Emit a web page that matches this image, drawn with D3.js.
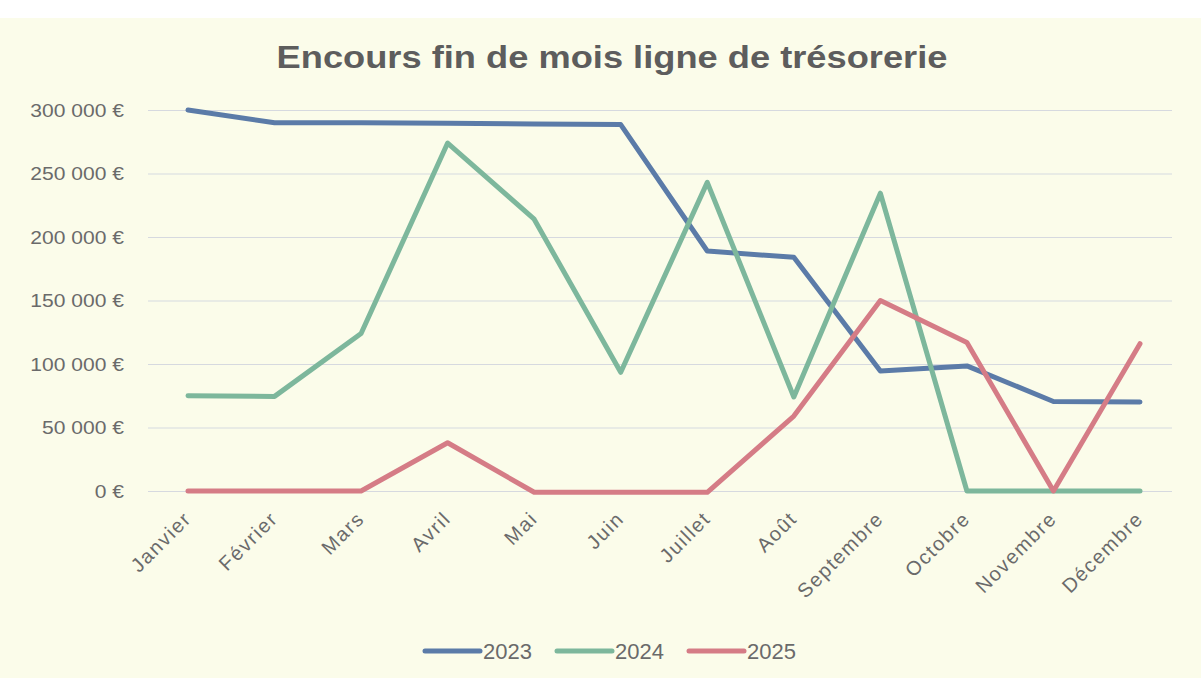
<!DOCTYPE html>
<html>
<head>
<meta charset="utf-8">
<script src="https://cdn.jsdelivr.net/npm/d3@7/dist/d3.min.js"></script>
<style>
  html, body { margin: 0; padding: 0; background: #ffffff; }
  svg { display: block; }
  text { font-family: "Liberation Sans", Arial, sans-serif; }
</style>
</head>
<body>
<div id="chart"></div>
<script>
// data
const months = ["Janvier", "Février", "Mars", "Avril", "Mai", "Juin", "Juillet", "Août", "Septembre", "Octobre", "Novembre", "Décembre"];
const years = ["2023", "2024", "2025"];
const values2023 = [300000, 290000, 290000, 289500, 289000, 288500, 189000, 184000, 94500, 98500, 70500, 70000];
const values2024 = [75000, 74500, 124000, 274000, 214000, 93500, 243000, 74000, 234500, 0, 0, 0];
const values2025 = [0, 0, 0, 38000, -1000, -1000, -1000, 59000, 150000, 117000, 0, 116000];
const yTicks = [0, 50000, 100000, 150000, 200000, 250000, 300000];
const colors = ["#5b7ba8", "#7db79c", "#d57c86"];

const series = [values2023, values2024, values2025];

const W = 1201, H = 678;
const sx = 1.17; // the picture's text runs a bit wide

const svg = d3.select("#chart").append("svg")
    .attr("width", W)
    .attr("height", H);

// cream card behind the chart
svg.append("rect")
    .attr("x", 0).attr("y", 18)
    .attr("width", W).attr("height", H - 18)
    .attr("fill", "#fbfcea");

const x = d3.scalePoint()
    .domain(months)
    .range([188, 1140]);

const y = d3.scaleLinear()
    .domain([0, 300000])
    .range([491, 110]);

const fr = d3.formatLocale({ decimal: ",", thousands: " ", grouping: [3], currency: ["", " €"] });
const euro = fr.format("$,.0f");

// title
svg.append("text")
    .attr("transform", `translate(612, 68) scale(${sx},1)`)
    .attr("text-anchor", "middle")
    .style("font-size", "31px")
    .style("font-weight", "bold")
    .style("fill", "#5d5d5d")
    .text("Encours fin de mois ligne de trésorerie");

// y axis + grid
const gridLeft = 148, gridRight = 1172;
const yAxis = svg.append("g")
    .attr("transform", `translate(${gridLeft},0)`)
    .call(d3.axisLeft(y).tickValues(yTicks).tickFormat(euro)
        .tickSize(-(gridRight - gridLeft)).tickPadding(0));
yAxis.select(".domain").remove();
yAxis.selectAll(".tick line")
    .attr("stroke", "#d6d9df")
    .attr("stroke-width", 1.2);
yAxis.selectAll(".tick text")
    .attr("x", -24 / sx)
    .attr("dy", "0.36em")
    .attr("transform", `scale(${sx},1)`)
    .style("font-size", "18px")
    .style("fill", "#6a6a6a");

// x axis labels
const xAxis = svg.append("g")
    .attr("transform", "translate(0,520)")
    .call(d3.axisBottom(x).tickSize(0).tickPadding(0));
xAxis.select(".domain").remove();
xAxis.selectAll(".tick text")
    .attr("x", 0).attr("y", 0).attr("dy", 0)
    .attr("text-anchor", "end")
    .attr("transform", "translate(4,0) rotate(-45)")
    .style("font-size", "20px")
    .style("letter-spacing", "1.6px")
    .style("fill", "#6a6a6a");

// lines
const line = d3.line()
    .x((d, i) => x(months[i]))
    .y(d => y(d));

svg.selectAll(".serie")
    .data(series)
    .join("path")
    .attr("class", "serie")
    .attr("d", line)
    .attr("fill", "none")
    .attr("stroke", (d, i) => colors[i])
    .attr("stroke-width", 5)
    .attr("stroke-linejoin", "round")
    .attr("stroke-linecap", "round");

// legend
const legendX = [425, 557, 689];
const legend = svg.selectAll(".legend")
    .data(years)
    .join("g")
    .attr("class", "legend")
    .attr("transform", (d, i) => `translate(${legendX[i]},651)`);
legend.append("line")
    .attr("x1", 0).attr("x2", 55)
    .attr("stroke", (d, i) => colors[i])
    .attr("stroke-width", 5)
    .attr("stroke-linecap", "round");
legend.append("text")
    .attr("x", 58)
    .attr("dy", "0.36em")
    .style("font-size", "22px")
    .style("fill", "#6a6a6a")
    .text(d => d);
</script>
</body>
</html>
